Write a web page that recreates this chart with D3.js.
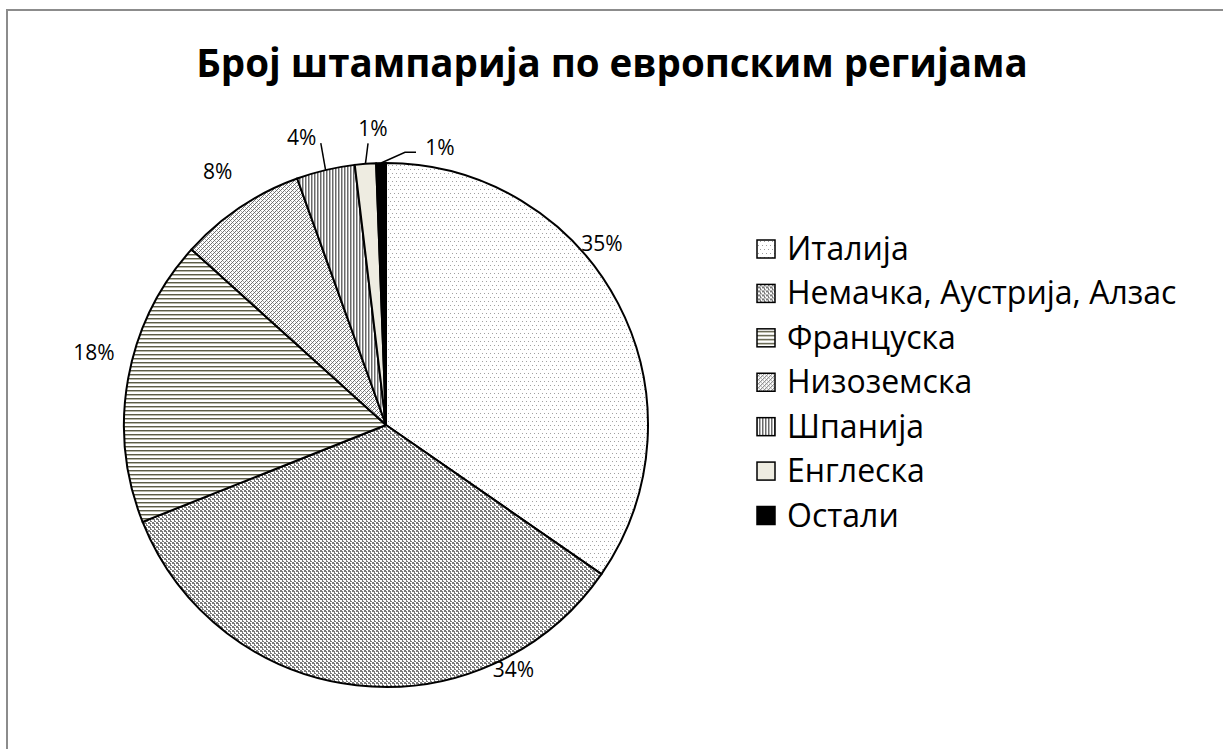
<!DOCTYPE html>
<html>
<head>
<meta charset="utf-8">
<script src="https://cdn.jsdelivr.net/npm/d3@7"></script>
<style>
  body { margin: 0; background: #fff; }
  svg text { font-family: "Open Sans", "Noto Sans", sans-serif; fill: #000; }
</style>
</head>
<body>
<div id="root"></div>
<script>
// Chart data (percent of all printing houses).
const title = 'Број штампарија по европским регијама';
const regions = ['Италија', 'Немачка, Аустрија, Алзас', 'Француска', 'Низоземска', 'Шпанија', 'Енглеска', 'Остали'];
const shares = [34.6, 34.3, 17.7, 7.8, 3.6, 1.3, 0.6];

let width = 1223;
let height = 749;

let cx = 386;
let cy = 425;
let radius = 262;

// Where Excel put each percent label: angle (deg, clockwise from 12 o'clock) and distance from the centre.
let labelPolar = [[50, 282], [152.5, 276], [284, 301], [326.4, 304], [343.7, 300], [357.5, 297], [11, 283]];
// Leader lines for the small slices: offset of the line start from the label, and an optional elbow.
let leaders = {
  4: { start: [19, 6] },
  5: { start: [-5, 15] },
  6: { start: [-24, 5], elbow: [-35, 5] }
};

let svg = d3.select('#root')
  .append('svg')
  .attr('width', width)
  .attr('height', height);

// Fill patterns that stand in for Excel's pattern fills.
let defs = svg.append('defs');

let addPattern = (id, w, h, draw) => {
  let p = defs.append('pattern')
    .attr('id', id)
    .attr('patternUnits', 'userSpaceOnUse')
    .attr('width', w)
    .attr('height', h);
  draw(p);
};

addPattern('p0', 4, 8, p => { // sparse dots
  p.append('rect').attr('width', 4).attr('height', 8).attr('fill', '#fff');
  p.append('rect').attr('x', 0).attr('y', 0).attr('width', 1).attr('height', 1).attr('fill', '#a0a0a0');
  p.append('rect').attr('x', 2).attr('y', 4).attr('width', 1).attr('height', 1).attr('fill', '#a0a0a0');
});
addPattern('p1', 4, 4, p => { // dense weave
  p.append('rect').attr('width', 4).attr('height', 4).attr('fill', '#fff');
  [[0, 0], [1, 0], [2, 1], [0, 2], [2, 2], [3, 2], [0, 3], [3, 1]].forEach(d => {
    p.append('rect').attr('x', d[0]).attr('y', d[1]).attr('width', 1).attr('height', 1).attr('fill', '#7a7a7a');
  });
});
addPattern('p2', 4, 4, p => { // horizontal lines
  p.append('rect').attr('width', 4).attr('height', 4).attr('fill', '#fff');
  p.append('rect').attr('y', 1).attr('width', 4).attr('height', 1).attr('fill', '#5c5c48');
  p.append('rect').attr('y', 2).attr('width', 4).attr('height', 1).attr('fill', '#b8b8a8');
});
addPattern('p3', 4, 4, p => { // diagonal hatch
  p.append('rect').attr('width', 4).attr('height', 4).attr('fill', '#fff');
  [[3, 0], [2, 1], [1, 2], [0, 3]].forEach(d => {
    p.append('rect').attr('x', d[0]).attr('y', d[1]).attr('width', 1).attr('height', 1).attr('fill', '#6e6e6e');
  });
  [[1, 0], [3, 2]].forEach(d => {
    p.append('rect').attr('x', d[0]).attr('y', d[1]).attr('width', 1).attr('height', 1).attr('fill', '#b0b0b0');
  });
});
addPattern('p4', 3, 4, p => { // vertical lines
  p.append('rect').attr('width', 3).attr('height', 4).attr('fill', '#fff');
  p.append('rect').attr('x', 0).attr('width', 1).attr('height', 4).attr('fill', '#6a6a6a');
  p.append('rect').attr('x', 1).attr('width', 1).attr('height', 4).attr('fill', '#b4b4b4');
});

let fills = ['url(#p0)', 'url(#p1)', 'url(#p2)', 'url(#p3)', 'url(#p4)', '#eeece1', '#000'];
let colorScale = d3.scaleOrdinal().domain(regions).range(fills);

// Chart frame, cut off on the right and bottom like the original.
svg.append('rect')
  .attr('x', 7).attr('y', 10)
  .attr('width', 1240).attr('height', 760)
  .attr('fill', '#fff')
  .attr('stroke', '#8c8c8c')
  .attr('stroke-width', 2);

svg.append('text')
  .attr('id', 'title')
  .attr('x', 612)
  .attr('y', 77)
  .attr('text-anchor', 'middle')
  .style('font-weight', 'bold')
  .style('font-size', '38.5px')
  .text(title);

// Pie.
let pie = d3.pie().sort(null).value(d => d.value);
let arcs = pie(regions.map((r, i) => ({ region: r, value: shares[i], index: i })));
let total = d3.sum(shares);
let pct = d3.format('.0%');

let arc = d3.arc().innerRadius(0).outerRadius(radius);

let g = svg.append('g').attr('transform', `translate(${cx}, ${cy})`);

g.selectAll('path.slice')
  .data(arcs)
  .enter()
  .append('path')
  .attr('class', 'slice')
  .attr('d', arc)
  .attr('fill', d => colorScale(d.data.region))
  .attr('stroke', '#000')
  .attr('stroke-width', 2)
  .attr('stroke-linejoin', 'round');

let polar = (deg, r) => {
  let a = deg * Math.PI / 180;
  return [r * Math.sin(a), -r * Math.cos(a)];
};

// Leader lines from small-slice labels to the middle of their arcs.
arcs.forEach((d, i) => {
  let l = leaders[i];
  if (!l) return;
  let lp = polar(labelPolar[i][0], labelPolar[i][1]);
  let mid = (d.startAngle + d.endAngle) / 2;
  let end = [radius * Math.sin(mid), -radius * Math.cos(mid)];
  let pts = [[lp[0] + l.start[0], lp[1] + l.start[1]]];
  if (l.elbow) pts.push([lp[0] + l.elbow[0], lp[1] + l.elbow[1]]);
  pts.push(end);
  g.append('path')
    .attr('d', d3.line()(pts))
    .attr('fill', 'none')
    .attr('stroke', '#000')
    .attr('stroke-width', 1.5);
});

g.selectAll('text.pct')
  .data(arcs)
  .enter()
  .append('text')
  .attr('class', 'pct')
  .attr('transform', (d, i) => {
    let p = polar(labelPolar[i][0], labelPolar[i][1]);
    return `translate(${p[0]}, ${p[1]})`;
  })
  .attr('text-anchor', 'middle')
  .attr('dy', '0.36em')
  .style('font-size', '21px')
  .text(d => pct(d.data.value / total));

// Legend.
let legendY = d3.scalePoint()
  .domain(regions)
  .range([249, 515.5]);

let legend = svg.append('g')
  .selectAll('g')
  .data(regions)
  .enter()
  .append('g')
  .attr('transform', d => `translate(756, ${legendY(d)})`);

legend.append('rect')
  .attr('x', 1)
  .attr('y', -9)
  .attr('width', 18)
  .attr('height', 18)
  .attr('fill', d => colorScale(d))
  .attr('stroke', '#000')
  .attr('stroke-width', 1.5);

legend.append('text')
  .attr('x', 31)
  .attr('y', 11)
  .style('font-size', '32px')
  .text(d => d);
</script>
</body>
</html>
